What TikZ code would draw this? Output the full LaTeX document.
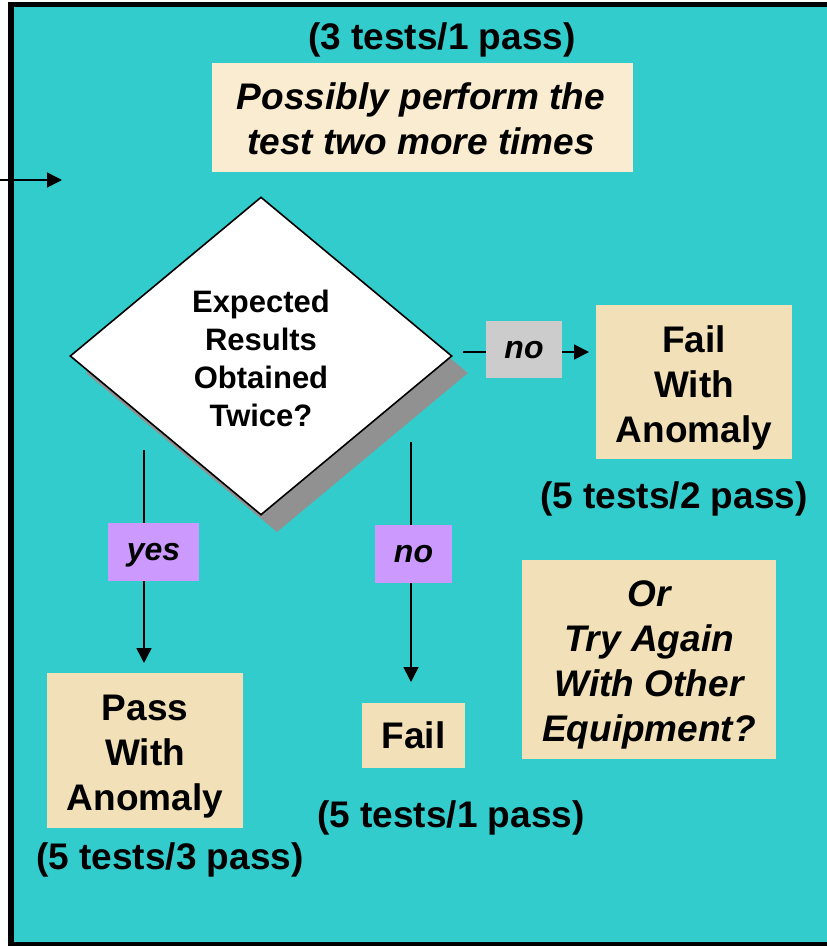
\documentclass[tikz,border=0pt]{standalone}
\usepackage{fontspec}
\setmainfont{Liberation Sans}
\usetikzlibrary{shapes.geometric,arrows.meta}
\definecolor{teal0}{RGB}{51,204,204}
\definecolor{tanA}{RGB}{241,224,184}
\definecolor{tanB}{RGB}{250,236,208}
\definecolor{lilac}{RGB}{204,153,255}
\definecolor{greyL}{RGB}{204,204,204}
\definecolor{greyS}{RGB}{145,145,145}
\tikzset{
  x=1pt,y=-1pt,
  bigtxt/.style={font=\fontsize{37}{45}\selectfont\bfseries,align=center,inner sep=0pt},
  bigit/.style={font=\fontsize{37}{45}\selectfont\bfseries\itshape,align=center,inner sep=0pt},
  tanbox/.style={fill=tanA,inner sep=0pt},
  tagbox/.style={fill=lilac,inner sep=0pt,text height=17pt,text depth=0pt,font=\fontsize{32}{38}\selectfont\bfseries\itshape},
  conn/.style={line width=1.6pt,draw=black},
  arr/.style={conn,-{Triangle[length=15pt,width=15pt]}},
}
\begin{document}
\begin{tikzpicture}
\useasboundingbox (0,0) rectangle (827,946);
\fill[white] (0,0) rectangle (827,946);
\fill[black] (8,2) rectangle (830,946);
\fill[teal0] (14,7) rectangle (830,942);
% left incoming arrow
\coordinate (inA) at (0,180);
\coordinate (inB) at (62,180);
\draw[arr] (inA) -- (inB);
% header
\node[bigtxt] (h1) at (442,40) {(3 tests/1 pass)};
\node[fill=tanB,inner sep=0pt,minimum width=421pt,minimum height=109pt] (topbox) at (422.5,117.5) {};
\node[bigit] (toptxt) at (421,119) {Possibly perform the\\ test two more times};
% diamond with shadow
\node[diamond,fill=greyS,inner sep=0pt,minimum width=382pt,minimum height=318pt] (shadow) at (277,373) {};
\node[diamond,fill=white,draw=black,line width=1.6pt,inner sep=0pt,minimum width=382pt,minimum height=318pt] (dec) at (261,356) {};
\node[font=\fontsize{31}{38}\selectfont\bfseries,align=center,inner sep=0pt] (dectxt) at (261,358) {Expected\\Results\\Obtained\\Twice?};
% right branch
\node[fill=greyL,inner sep=0pt,minimum width=76pt,minimum height=57pt,text height=17pt,text depth=0pt,font=\fontsize{32}{38}\selectfont\bfseries\itshape] (noR) at (524,349.5) {no};
\node[tanbox,minimum width=196pt,minimum height=154pt] (failA) at (694,382) {};
\node[bigtxt] (failAt) at (694,388) {Fail\\With\\Anomaly};
\coordinate (rS) at (463,352);
\coordinate (rE) at (589,352);
\draw[conn] (rS) -- (rS-|noR.west);
\draw[arr] (noR.east|-rE) -- (rE);
\node[bigtxt] (c2) at (674,499) {(5 tests/2 pass)};
% yes branch
\node[tagbox,minimum width=91pt,minimum height=58pt] (yes) at (153.5,552) {yes};
\coordinate (yS) at (144,450);
\coordinate (yE) at (144,663);
\draw[conn] (yS) -- (yS|-yes.north);
\draw[arr] (yS|-yes.south) -- (yE);
\node[tanbox,minimum width=196pt,minimum height=155pt] (pass) at (145,750.5) {};
\node[bigtxt] (passt) at (145,757) {Pass\\With\\Anomaly};
\node[bigtxt] (c3) at (170,860) {(5 tests/3 pass)};
% no branch (down)
\node[tagbox,minimum width=77pt,minimum height=58pt] (noD) at (413.5,554) {no};
\coordinate (nS) at (411,442);
\coordinate (nE) at (411,682);
\draw[conn] (nS) -- (nS|-noD.north);
\draw[arr] (nS|-noD.south) -- (nE);
\node[tanbox,minimum width=103pt,minimum height=65pt,font=\fontsize{37}{45}\selectfont\bfseries] (fail) at (413.5,735.5) {Fail};
\node[bigtxt] (c1) at (451,818) {(5 tests/1 pass)};
% other equipment
\node[tanbox,minimum width=254pt,minimum height=199pt] (orbox) at (649,659.5) {};
\node[bigit] (ortxt) at (649,665) {Or\\Try Again\\With Other\\Equipment?};
\end{tikzpicture}
\end{document}
